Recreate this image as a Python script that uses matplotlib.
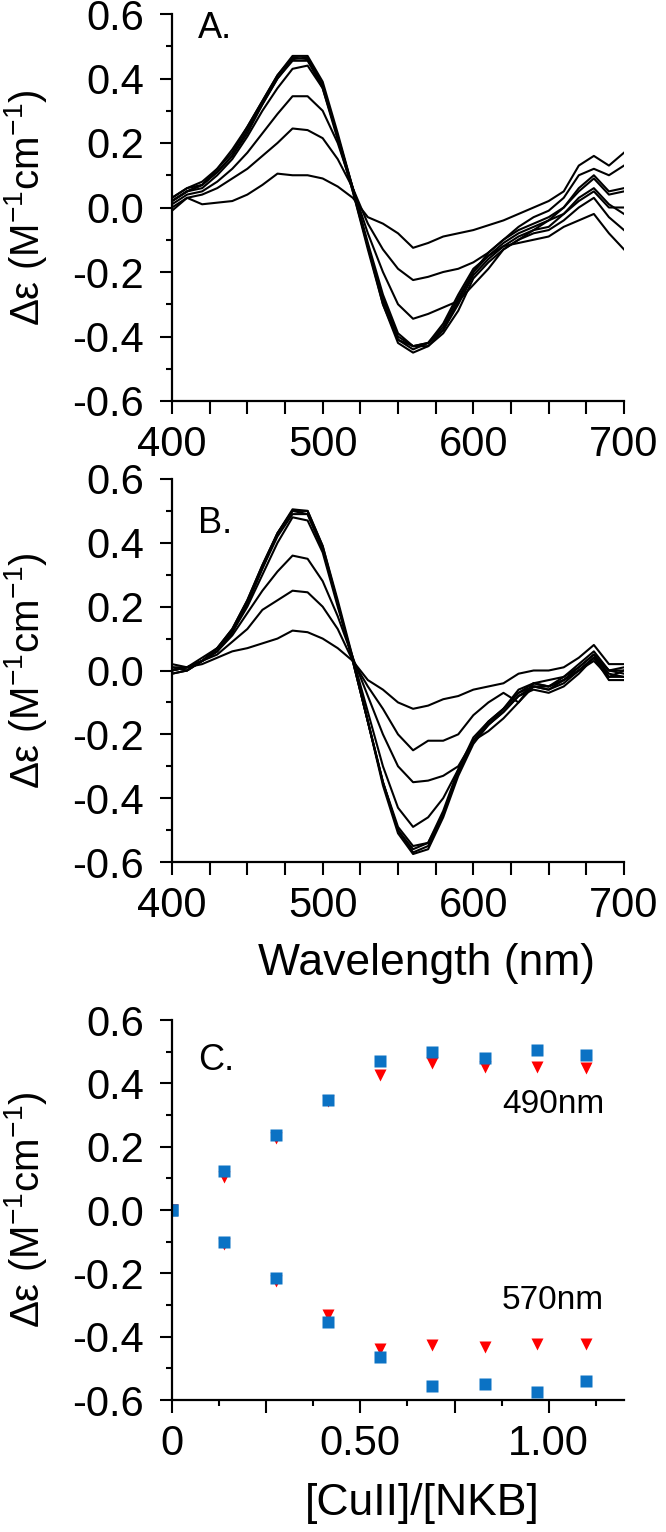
import numpy as np
import matplotlib
matplotlib.use("Agg")
import matplotlib.pyplot as plt
from matplotlib.ticker import MultipleLocator, FixedLocator, FixedFormatter

plt.rcParams['font.family'] = ['Liberation Sans', 'DejaVu Sans']
plt.rcParams['mathtext.fontset'] = 'custom'
plt.rcParams['mathtext.rm'] = 'Liberation Sans'
plt.rcParams['mathtext.it'] = 'Liberation Sans:italic'
plt.rcParams['axes.unicode_minus'] = False

# wavelength grid for the CD spectra (nm)
wl = [400, 410, 420, 430, 440, 450, 460, 470, 480, 490, 500, 510, 520, 530, 540, 550,
      560, 570, 580, 590, 600, 610, 620, 630, 640, 650, 660, 670, 680, 690, 700]

# panel A spectra
specA_1 = [-0.01, 0.03, 0.01, 0.015, 0.02, 0.04, 0.07, 0.105, 0.10, 0.10, 0.09, 0.065, 0.03, -0.03, -0.05, -0.08,
           -0.125, -0.11, -0.09, -0.08, -0.07, -0.055, -0.04, -0.02, 0.0, 0.02, 0.05, 0.13, 0.16, 0.13, 0.17]
specA_2 = [0.0, 0.03, 0.04, 0.06, 0.09, 0.12, 0.16, 0.2, 0.245, 0.24, 0.215, 0.15, 0.06, -0.05, -0.13, -0.19,
           -0.225, -0.215, -0.2, -0.19, -0.17, -0.14, -0.1, -0.06, -0.03, -0.01, 0.03, 0.1, 0.12, 0.1, 0.13]
specA_3 = [0.01, 0.04, 0.05, 0.08, 0.12, 0.17, 0.23, 0.29, 0.345, 0.345, 0.3, 0.2, 0.06, -0.08, -0.2, -0.3,
           -0.345, -0.33, -0.31, -0.29, -0.24, -0.19, -0.13, -0.1, -0.07, -0.04, 0.0, 0.06, 0.1, 0.05, 0.06]
specA_4 = [0.02, 0.05, 0.06, 0.1, 0.15, 0.22, 0.3, 0.37, 0.43, 0.44, 0.37, 0.22, 0.06, -0.11, -0.27, -0.39,
           -0.43, -0.42, -0.38, -0.3, -0.21, -0.16, -0.12, -0.09, -0.07, -0.06, -0.02, 0.03, 0.06, 0.01, -0.02]
specA_5 = [0.02, 0.05, 0.07, 0.11, 0.16, 0.24, 0.32, 0.4, 0.46, 0.465, 0.38, 0.22, 0.05, -0.13, -0.3, -0.42,
           -0.45, -0.43, -0.39, -0.32, -0.22, -0.17, -0.13, -0.1, -0.08, -0.07, -0.04, 0.0, 0.03, -0.03, -0.07]
specA_6 = [0.03, 0.06, 0.07, 0.12, 0.17, 0.25, 0.33, 0.41, 0.465, 0.46, 0.37, 0.21, 0.05, -0.12, -0.29, -0.41,
           -0.44, -0.42, -0.37, -0.28, -0.2, -0.15, -0.12, -0.11, -0.1, -0.09, -0.06, -0.04, -0.02, -0.08, -0.13]
specA_7 = [0.02, 0.05, 0.07, 0.11, 0.16, 0.23, 0.32, 0.4, 0.455, 0.455, 0.375, 0.22, 0.06, -0.12, -0.28, -0.4,
           -0.43, -0.43, -0.38, -0.29, -0.2, -0.14, -0.1, -0.07, -0.05, -0.03, 0.0, 0.05, 0.09, 0.04, 0.05]
specA_8 = [0.03, 0.06, 0.08, 0.12, 0.18, 0.25, 0.33, 0.41, 0.47, 0.47, 0.39, 0.23, 0.06, -0.12, -0.3, -0.41,
           -0.43, -0.42, -0.36, -0.27, -0.19, -0.15, -0.11, -0.08, -0.06, -0.04, -0.02, 0.02, 0.05, 0.0, 0.0]

# panel B spectra
specB_1 = [0.0, 0.01, 0.02, 0.04, 0.06, 0.07, 0.085, 0.1, 0.125, 0.12, 0.1, 0.07, 0.03, -0.03, -0.06, -0.1,
           -0.12, -0.11, -0.09, -0.08, -0.06, -0.05, -0.04, -0.01, 0.0, 0.0, 0.01, 0.04, 0.08, 0.02, 0.02]
specB_2 = [-0.01, 0.0, 0.03, 0.05, 0.09, 0.13, 0.19, 0.22, 0.25, 0.245, 0.2, 0.13, 0.03, -0.05, -0.12, -0.2,
           -0.25, -0.22, -0.22, -0.2, -0.14, -0.1, -0.07, -0.1, -0.04, -0.03, -0.02, 0.01, 0.05, 0.0, 0.0]
specB_3 = [0.01, 0.0, 0.03, 0.06, 0.11, 0.18, 0.25, 0.31, 0.36, 0.35, 0.28, 0.17, 0.04, -0.08, -0.2, -0.3,
           -0.35, -0.345, -0.33, -0.3, -0.22, -0.19, -0.15, -0.1, -0.05, -0.05, -0.03, 0.0, 0.04, 0.0, -0.01]
specB_4 = [0.0, 0.01, 0.03, 0.06, 0.12, 0.2, 0.3, 0.4, 0.48, 0.47, 0.37, 0.2, 0.04, -0.13, -0.3, -0.43,
           -0.49, -0.46, -0.4, -0.31, -0.22, -0.17, -0.13, -0.08, -0.05, -0.06, -0.03, 0.0, 0.04, -0.01, -0.02]
specB_5 = [0.01, 0.01, 0.03, 0.07, 0.13, 0.22, 0.33, 0.43, 0.5, 0.49, 0.38, 0.21, 0.03, -0.16, -0.35, -0.5,
           -0.56, -0.54, -0.44, -0.31, -0.21, -0.16, -0.12, -0.07, -0.05, -0.06, -0.04, 0.0, 0.03, -0.02, -0.02]
specB_6 = [-0.01, 0.0, 0.03, 0.07, 0.13, 0.22, 0.33, 0.43, 0.505, 0.5, 0.39, 0.21, 0.03, -0.16, -0.35, -0.5,
           -0.57, -0.55, -0.45, -0.32, -0.22, -0.17, -0.13, -0.08, -0.06, -0.07, -0.05, -0.01, 0.04, -0.03, -0.03]
specB_7 = [0.0, 0.01, 0.04, 0.07, 0.12, 0.21, 0.32, 0.43, 0.5, 0.5, 0.39, 0.22, 0.04, -0.16, -0.36, -0.51,
           -0.575, -0.56, -0.46, -0.33, -0.23, -0.17, -0.12, -0.07, -0.04, -0.05, -0.03, 0.01, 0.05, -0.02, 0.0]
specB_8 = [0.02, 0.01, 0.03, 0.06, 0.12, 0.21, 0.32, 0.42, 0.49, 0.49, 0.38, 0.21, 0.03, -0.16, -0.35, -0.49,
           -0.55, -0.54, -0.45, -0.32, -0.22, -0.16, -0.12, -0.06, -0.04, -0.05, -0.02, 0.02, 0.06, 0.0, 0.01]

# panel C titration
ratio = [0.0, 0.138, 0.276, 0.414, 0.552, 0.69, 0.83, 0.97, 1.1]
blue_490 = [0.0, 0.123, 0.238, 0.348, 0.471, 0.498, 0.48, 0.506, 0.488]
red_490 = [0.0, 0.105, 0.227, 0.343, 0.426, 0.463, 0.452, 0.452, 0.448]
blue_570 = [0.0, -0.102, -0.214, -0.354, -0.463, -0.557, -0.55, -0.576, -0.541]
red_570 = [0.0, -0.107, -0.223, -0.33, -0.439, -0.426, -0.434, -0.423, -0.423]

yticks = [-0.6, -0.4, -0.2, 0.0, 0.2, 0.4, 0.6]
ytick_labels = ['-0.6', '-0.4', '-0.2', '0.0', '0.2', '0.4', '0.6']
ylab = 'Δε (M$^{-1}$cm$^{-1}$)'

W, H = 666, 1532
fig = plt.figure(figsize=(W / 100, H / 100), dpi=100)


def px_axes(top, bottom, left=172, right=624):
    return fig.add_axes([left / W, 1 - bottom / H, (right - left) / W, (bottom - top) / H])


def style(ax):
    for s in ['top', 'right']:
        ax.spines[s].set_visible(False)
    for s in ['left', 'bottom']:
        ax.spines[s].set_linewidth(1.6)
    ax.set_ylim(-0.6, 0.6)
    ax.yaxis.set_major_locator(FixedLocator(yticks))
    ax.yaxis.set_major_formatter(FixedFormatter(ytick_labels))
    ax.yaxis.set_minor_locator(MultipleLocator(0.1))
    ax.tick_params(which='major', direction='out', length=9, width=1.5, labelsize=30)
    ax.tick_params(which='minor', direction='out', length=4, width=1.5)
    ax.tick_params(axis='y', pad=11)
    ax.tick_params(axis='x', pad=8)


def spectra_panel(ax, curves, letter, letter_y):
    for c in curves:
        ax.plot(wl, c, color='black', lw=1.5)
    style(ax)
    ax.set_xlim(400, 700)
    ax.xaxis.set_major_locator(MultipleLocator(25))
    ax.xaxis.set_major_formatter(plt.FuncFormatter(lambda v, p: f"{v:.0f}" if v % 100 == 0 else ""))
    ax.text(0.058, letter_y, letter, transform=ax.transAxes, fontsize=26, va='baseline')


axA = px_axes(14, 401)
spectra_panel(axA, [specA_1, specA_2, specA_3, specA_4, specA_5, specA_6, specA_7, specA_8], 'A.', 0.937)

axB = px_axes(479, 862)
spectra_panel(axB, [specB_1, specB_2, specB_3, specB_4, specB_5, specB_6, specB_7, specB_8], 'B.', 0.86)

axC = px_axes(1020, 1400)
axC.plot(ratio, red_490, 'v', color='#ff0000', ms=9, mec='none')
axC.plot(ratio, red_570, 'v', color='#ff0000', ms=9, mec='none')
axC.plot(ratio, blue_490, 's', color='#0b72c4', ms=8, mec='none')
axC.plot(ratio, blue_570, 's', color='#0b72c4', ms=8, mec='none')
style(axC)
axC.set_xlim(0, 1.2)
axC.xaxis.set_major_locator(FixedLocator([0, 0.25, 0.5, 0.75, 1.0]))
axC.xaxis.set_major_formatter(FixedFormatter(['0', '', '0.50', '', '1.00']))
axC.xaxis.set_minor_locator(FixedLocator([0.125, 0.375, 0.625, 0.875, 1.125]))
axC.text(0.058, 0.868, 'C.', transform=axC.transAxes, fontsize=26, va='baseline')
axC.text(1.147, 0.305, '490nm', fontsize=24, ha='right', va='baseline')
axC.text(1.147, -0.314, '570nm', fontsize=24, ha='right', va='baseline')

for top, bottom in [(14, 401), (479, 862), (1020, 1400)]:
    fig.text(26 / W, 1 - (top + bottom) / 2 / H, ylab, rotation=90, fontsize=29,
             ha='center', va='center')

fig.text(427 / W, 1 - 963 / H, 'Wavelength (nm)', fontsize=32, ha='center', va='center')
fig.text(422 / W, 1 - 1503 / H, '[CuII]/[NKB]', fontsize=32, ha='center', va='center')

fig.savefig('out.png', dpi=100)
